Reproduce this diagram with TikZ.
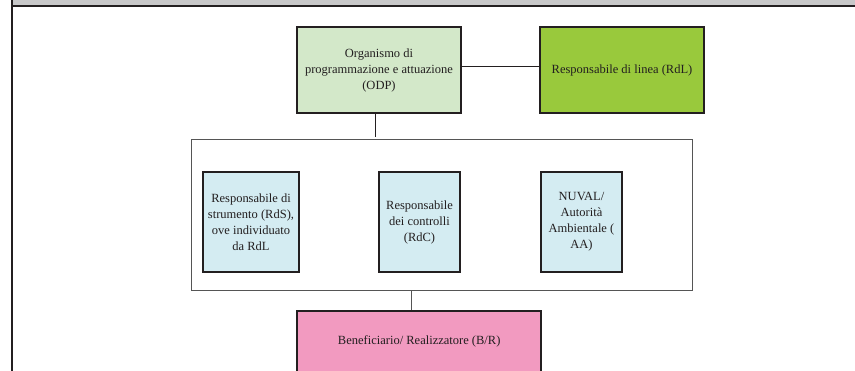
\documentclass[tikz,border=0pt]{standalone}
\usepackage{fontspec}
\setmainfont{Liberation Serif}
\definecolor{bandgray}{HTML}{C8C8C9}
\definecolor{ink}{HTML}{231F20}
\definecolor{odpgreen}{HTML}{D3E8C9}
\definecolor{rdlgreen}{HTML}{99C93C}
\definecolor{paleblue}{HTML}{D4ECF2}
\definecolor{pinkbox}{HTML}{F29AC0}
\definecolor{linegray}{HTML}{555555}
\begin{document}
\begin{tikzpicture}[x=1pt,y=-1pt,
  box/.style={draw=ink, line width=1.8pt, inner sep=0pt, align=center,
    text=ink, font=\fontsize{12.5}{16}\selectfont},
  group/.style={draw=linegray, line width=1pt, inner sep=0pt},
  link/.style={draw=ink, line width=0.9pt},
  glink/.style={draw=linegray, line width=1pt}]
\clip (0,0) rectangle (855,371);
\fill[white] (0,0) rectangle (855,371);
% header band and left rule
\fill[bandgray] (12,0) rectangle (855,5.2);
\draw[ink, line width=1.8pt] (11,5.9) -- (855,5.9);
\draw[ink, line width=1.7pt] (11.9,0) -- (11.9,371);
% top row
\node[box, fill=odpgreen, minimum width=163.4pt, minimum height=85.4pt] (odp) at (379,70)
  {Organismo di\\programmazione e attuazione\\(ODP)};
\node[box, fill=rdlgreen, minimum width=164pt, minimum height=85.4pt] (rdl) at (622,70)
  {Responsabile di linea (RdL)};
% container
\node[group, minimum width=501pt, minimum height=150.7pt] (grp) at (442.2,215.35) {};
\node[box, fill=paleblue, minimum width=95.4pt, minimum height=100.6pt] (rds) at (251,222)
  {Responsabile di\\strumento (RdS),\\ove individuato\\da RdL};
\node[box, fill=paleblue, minimum width=81.6pt, minimum height=100.6pt] (rdc) at (419.5,222)
  {Responsabile\\dei controlli\\(RdC)};
\node[box, fill=paleblue, minimum width=81.6pt, minimum height=100.6pt] (nuval) at (581.5,222)
  {NUVAL/\\Autorità\\Ambientale (\\AA)};
% bottom box
\node[box, fill=pinkbox, minimum width=243.7pt, minimum height=62pt] (br) at (419.2,341.7)
  {Beneficiario/ Realizzatore (B/R)};
% connectors
\draw[link] ([yshift=4pt]odp.east) -- ([yshift=4pt]odp.east -| rdl.west);
\draw[link] ([xshift=-4pt]odp.south) -- ([xshift=-4pt,yshift=2pt]odp.south |- grp.north);
\draw[glink] ([xshift=-8pt]br.north |- grp.south) -- ([xshift=-8pt]br.north);
\end{tikzpicture}
\end{document}
